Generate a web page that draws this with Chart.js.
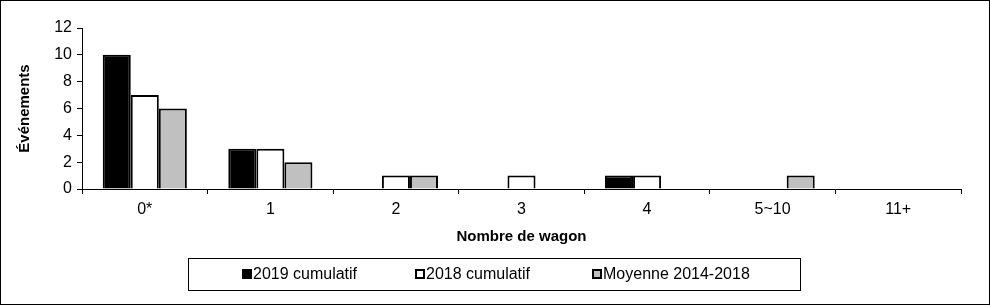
<!DOCTYPE html>
<html>
<head>
<meta charset="utf-8">
<script src="https://cdn.jsdelivr.net/npm/chart.js@4"></script>
<style>
    body { margin: 0; background: #fff; }
</style>
</head>
<body>
<canvas id="wagons" width="990" height="305"></canvas>
<script>
var categories = ['0*', '1', '2', '3', '4', '5~10', '11+'];
var serie2019 = [10, 3, 0, 0, 1, 0, 0];
var serie2018 = [7, 3, 1, 1, 1, 0, 0];
var moyenne = [6, 2, 1, 0, 0, 1, 0];

var police = "'Liberation Sans', Arial, sans-serif";

// cadre exterieur + legende encadree (dessinee a la main, comme dans Excel)
var legendeCadre = {
    id: 'legendeCadre',
    afterDraw: function (chart) {
        var ctx = chart.ctx;
        var posX = [242, 415, 592];
        ctx.save();
        ctx.strokeStyle = '#000';
        ctx.lineWidth = 1;
        ctx.strokeRect(0.5, 0.5, 989, 304);
        ctx.strokeRect(188.5, 258.5, 612, 32);

        ctx.font = '16px ' + police;
        ctx.textBaseline = 'middle';
        ctx.textAlign = 'left';
        chart.data.datasets.forEach(function (ds, i) {
            ctx.fillStyle = ds.backgroundColor;
            ctx.fillRect(posX[i], 269, 10, 10);
            ctx.lineWidth = 2;
            ctx.strokeStyle = ds.borderColor;
            ctx.strokeRect(posX[i] + 1, 270, 8, 8);
            ctx.fillStyle = '#000';
            ctx.fillText(ds.label, posX[i] + 11, 275);
        });
        ctx.restore();
    }
};

var ctx = document.getElementById('wagons').getContext('2d');
var graficoWagons = new Chart(ctx, {
    type: 'bar',
    data: {
        labels: categories,
        datasets: [{
            label: '2019 cumulatif',
            data: serie2019,
            backgroundColor: '#000000',
            borderColor: '#000000',
            borderWidth: 2
        }, {
            label: '2018 cumulatif',
            data: serie2018,
            backgroundColor: '#ffffff',
            borderColor: '#000000',
            borderWidth: 2
        }, {
            label: 'Moyenne 2014-2018',
            data: moyenne,
            backgroundColor: '#c0c0c0',
            borderColor: '#000000',
            borderWidth: 2
        }]
    },
    options: {
        responsive: false,
        animation: false,
        devicePixelRatio: 1,
        layout: { padding: { left: 7, right: 29, top: 28, bottom: 59 } },
        categoryPercentage: 0.67,
        barPercentage: 1.0,
        plugins: {
            tooltip: { enabled: false },
            legend: { display: false }
        },
        scales: {
            x: {
                offset: true,
                afterFit: function (s) { s.height = 57; },
                grid: {
                    offset: true,
                    drawOnChartArea: false,
                    color: '#000',
                    tickLength: 5
                },
                border: { color: '#000', width: 1 },
                ticks: { color: '#000', font: { family: police, size: 16 }, padding: 6, maxRotation: 0 },
                title: {
                    display: true,
                    text: 'Nombre de wagon',
                    color: '#000',
                    font: { family: police, size: 15, weight: 'bold' },
                    padding: { top: 0, bottom: 0 }
                }
            },
            y: {
                min: 0,
                max: 12,
                afterFit: function (s) { s.width = 75; },
                grid: {
                    drawOnChartArea: false,
                    color: '#000',
                    tickLength: 5
                },
                border: { color: '#000', width: 1 },
                ticks: { stepSize: 2, color: '#000', font: { family: police, size: 16 }, padding: 5 },
                title: {
                    display: true,
                    text: 'Événements',
                    color: '#000',
                    font: { family: police, size: 15, weight: 'bold' },
                    padding: { top: 9, bottom: 0 }
                }
            }
        }
    },
    plugins: [legendeCadre]
});
</script>
</body>
</html>
